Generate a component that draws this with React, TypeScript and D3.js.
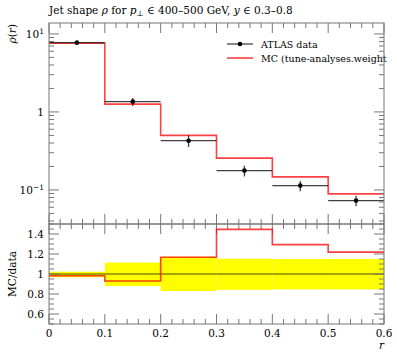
import React from "react";
import * as d3 from "d3";

const binEdges = [0, 0.1, 0.2, 0.3, 0.4, 0.5, 0.6];
const dataValues = [7.73, 1.355, 0.428, 0.177, 0.1136, 0.073];
const dataErrUp = [0.18, 0.155, 0.074, 0.027, 0.017, 0.011];
const dataErrDown = [0.25, 0.163, 0.073, 0.028, 0.0175, 0.0112];
const mcValues = [7.6, 1.26, 0.5, 0.256, 0.147, 0.089];
const xTickLabels = ["0", "0.1", "0.2", "0.3", "0.4", "0.5", "0.6"];
const ratioTicks = [0.6, 0.8, 1, 1.2, 1.4];
const ratioTickLabels = ["0.6", "0.8", "1", "1.2", "1.4"];

const FONT = "DejaVu Serif";
const FRAME = "#777";
const FS = 10.5;

export default function App() {
  const L = 49, R = 384, T = 23, M = 224, B = 324;
  const x = d3.scaleLinear().domain([0, 0.6]).range([L, R]);
  const y = d3.scaleLog().domain([0.0366, 13.8]).range([M, T]);
  const yr = d3.scaleLinear().domain([0.5, 1.5]).range([B, M]);

  const stepPath = (vals: number[], sc: (v: number) => number) => {
    let p = "";
    vals.forEach((v, i) => {
      const x0 = x(binEdges[i]), x1 = x(binEdges[i + 1]);
      p += (i === 0 ? `M${x0},${sc(v)}` : `L${x0},${sc(v)}`) + `L${x1},${sc(v)}`;
    });
    return p;
  };

  const ratios = mcValues.map((m, i) => m / dataValues[i]);
  const bandUp = dataValues.map((d, i) => 1 + dataErrUp[i] / d);
  const bandDown = dataValues.map((d, i) => 1 - dataErrDown[i] / d);

  const xMinor = d3.range(0, 0.6001, 0.02);
  const isMajorX = (v: number) => Math.abs(v * 10 - Math.round(v * 10)) < 1e-6;

  const logTicks: { v: number; major: boolean }[] = [];
  [0.01, 0.1, 1, 10].forEach((dec) => {
    for (let k = 1; k <= 9; k++) {
      const v = dec * k;
      if (v >= 0.0366 && v <= 13.8) logTicks.push({ v, major: k === 1 });
    }
  });
  const rMinor = d3.range(0.5, 1.5001, 0.05);
  const isMajorR = (v: number) => Math.abs(v * 5 - Math.round(v * 5)) < 1e-6;

  return (
    <svg width={397} height={358} style={{ position: "absolute", left: 0, top: 0, fontFamily: FONT }}>
      <text x={49} y={14} fontSize={FS}>
        Jet shape <tspan fontStyle="italic">ρ</tspan> for <tspan fontStyle="italic">p</tspan>
        <tspan fontSize={7.5} dy={2}>⊥</tspan>
        <tspan dy={-2}> ∈ 400–500 GeV, </tspan>
        <tspan fontStyle="italic">y</tspan> ∈ 0.3–0.8
      </text>

      <defs>
        <clipPath id="mainclip"><rect x={L} y={T} width={R - L} height={M - T} /></clipPath>
        <clipPath id="ratioclip"><rect x={L} y={M} width={R - L} height={B - M} /></clipPath>
      </defs>
      <g clipPath="url(#mainclip)">
        <path d={stepPath(mcValues, y)} fill="none" stroke="#ff0000" strokeOpacity={0.75} strokeWidth={1.6} />
        {dataValues.map((v, i) => {
          const xc = x((binEdges[i] + binEdges[i + 1]) / 2);
          return (
            <g key={i}>
              <line x1={x(binEdges[i])} x2={x(binEdges[i + 1])} y1={y(v)} y2={y(v)} stroke="#000" strokeOpacity={0.75} strokeWidth={1.3} />
              <line x1={xc} x2={xc} y1={y(v + dataErrUp[i])} y2={y(v - dataErrDown[i])} stroke="#000" strokeOpacity={0.75} strokeWidth={1.3} />
              <circle cx={xc} cy={y(v)} r={2.3} fill="#000" />
            </g>
          );
        })}
      </g>

      <line x1={227} x2={253} y1={44} y2={44} stroke="#000" strokeOpacity={0.75} strokeWidth={1.3} />
      <circle cx={240} cy={44} r={2.3} fill="#000" />
      <text x={261} y={48} fontSize={9.5}>ATLAS data</text>
      <line x1={227} x2={253} y1={58} y2={58} stroke="#ff0000" strokeWidth={1.2} />
      <text x={261} y={62} fontSize={9.5}>MC (tune-analyses.weight</text>

      <rect x={L} y={T} width={R - L} height={M - T} fill="none" stroke={FRAME} strokeWidth={1} />
      {xMinor.map((v, i) => {
        const len = isMajorX(v) ? 10 : 5;
        return (
          <g key={"mx" + i} stroke={FRAME} strokeWidth={1}>
            <line x1={x(v)} x2={x(v)} y1={M} y2={M - len} />
            <line x1={x(v)} x2={x(v)} y1={T} y2={T + len} />
            <line x1={x(v)} x2={x(v)} y1={B} y2={B - len} />
            <line x1={x(v)} x2={x(v)} y1={M} y2={M + len} />
          </g>
        );
      })}
      {logTicks.map((t, i) => {
        const len = t.major ? 10 : 5;
        return (
          <g key={"ly" + i} stroke={FRAME} strokeWidth={1}>
            <line x1={L} x2={L + len} y1={y(t.v)} y2={y(t.v)} />
            <line x1={R} x2={R - len} y1={y(t.v)} y2={y(t.v)} />
          </g>
        );
      })}
      <text x={44} y={38} fontSize={FS} textAnchor="end">10<tspan fontSize={7.5} dy={-4}>1</tspan></text>
      <text x={44} y={116} fontSize={FS} textAnchor="end">1</text>
      <text x={44} y={194} fontSize={FS} textAnchor="end">10<tspan fontSize={7.5} dy={-4}>−1</tspan></text>
      <text transform="translate(16,24) rotate(-90)" fontSize={FS} textAnchor="end">
        <tspan fontStyle="italic">ρ</tspan>(<tspan fontStyle="italic">r</tspan>)
      </text>

      <g clipPath="url(#ratioclip)">
        {bandUp.map((u, i) => (
          <rect key={"b" + i} x={x(binEdges[i])} width={x(binEdges[i + 1]) - x(binEdges[i])}
            y={yr(u)} height={yr(bandDown[i]) - yr(u)} fill="#ffff00" />
        ))}
        <line x1={L} x2={R} y1={yr(1)} y2={yr(1)} stroke="#000" strokeOpacity={0.7} strokeWidth={1} />
        <path d={stepPath(ratios, yr)} fill="none" stroke="#ff0000" strokeOpacity={0.75} strokeWidth={1.6} />
      </g>
      <rect x={L} y={M} width={R - L} height={B - M} fill="none" stroke={FRAME} strokeWidth={1} />
      {rMinor.map((v, i) => {
        const len = isMajorR(v) ? 10 : 5;
        return (
          <g key={"ry" + i} stroke={FRAME} strokeWidth={1}>
            <line x1={L} x2={L + len} y1={yr(v)} y2={yr(v)} />
            <line x1={R} x2={R - len} y1={yr(v)} y2={yr(v)} />
          </g>
        );
      })}
      {ratioTicks.map((v, i) => (
        <text key={"rl" + i} x={44} y={yr(v) + 4} fontSize={FS} textAnchor="end">{ratioTickLabels[i]}</text>
      ))}
      {xTickLabels.map((s, i) => (
        <text key={"xl" + i} x={x(i * 0.1)} y={337} fontSize={FS} textAnchor="middle">{s}</text>
      ))}
      <text x={384} y={349} fontSize={FS} textAnchor="end" fontStyle="italic">r</text>
      <text transform={`translate(16,${yr(1)}) rotate(-90)`} fontSize={FS} textAnchor="middle">MC/data</text>
    </svg>
  );
}
